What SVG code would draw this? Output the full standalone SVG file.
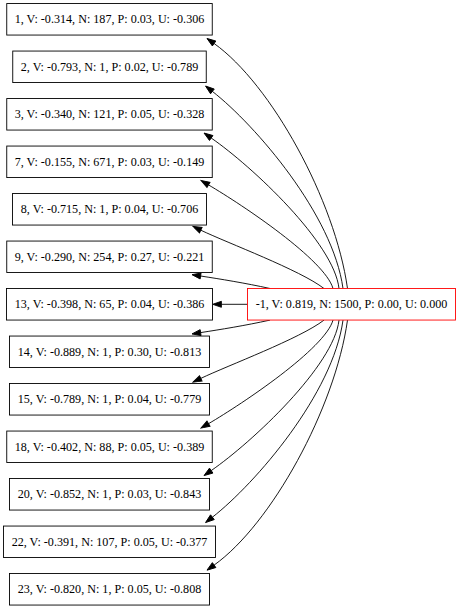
<svg xmlns="http://www.w3.org/2000/svg" width="459" height="609" viewBox="0 0 459 609">
<style>
.box{fill:#fff;stroke:#000;stroke-width:0.9}
.root{fill:#fff;stroke:#ff0000;stroke-width:0.9}
text{font-family:"Liberation Serif","Times New Roman",serif;font-size:12.12px;fill:#000;text-anchor:middle}
.edge{fill:none;stroke:#000;stroke-width:0.9;marker-end:url(#ah)}
</style>
<defs>
<marker id="ah" markerUnits="userSpaceOnUse" markerWidth="10" markerHeight="8" refX="0" refY="4" orient="auto" viewBox="0 0 10 8" overflow="visible">
<path d="M0,1 L8.7,4 L0,7 z" fill="#000" stroke="#000" stroke-width="0.9"/>
</marker>
</defs>
<rect width="459" height="609" fill="#fff"/>
<g id="edges">
<path class="edge" d="M347.5,288.5 C335,200 271,84 214.1,43.5"/>
<path class="edge" d="M343,288.5 C333,215 255.7,125.3 212.4,91.4"/>
<path class="edge" d="M339,288.5 C334,243 252.3,166.5 211.2,138"/>
<path class="edge" d="M333,288.5 C325,260 243,205.2 208.5,184.9"/>
<path class="edge" d="M324,288.5 C300,270 227.8,243.1 200.8,230.2"/>
<path class="edge" d="M270,288.5 C245,283 220,279 200.6,276"/>
<path class="edge" d="M247.5,304.3 L221.4,304.3"/>
<path class="edge" d="M270,320.1 C245,325.6 220,329.6 200.6,332.6"/>
<path class="edge" d="M324,320.1 C300,338.6 227.8,365.5 200.8,378.4"/>
<path class="edge" d="M333,320.1 C325,348.6 243,403.4 208.5,423.7"/>
<path class="edge" d="M339,320.1 C334,365.6 252.3,442.1 211.2,470.6"/>
<path class="edge" d="M343,320.1 C333,393.6 255.7,483.3 212.4,517.2"/>
<path class="edge" d="M347.5,320.1 C335,408.6 271,524.6 214.1,565.1"/>
</g>
<g id="n1"><rect class="box" x="6.75" y="3.55" width="205.5" height="31.5"/><text x="109.5" y="23.3">1, V: -0.314, N: 187, P: 0.03, U: -0.306</text></g>
<g id="n2"><rect class="box" x="12.75" y="51.05" width="193.5" height="31.5"/><text x="109.5" y="70.8">2, V: -0.793, N: 1, P: 0.02, U: -0.789</text></g>
<g id="n3"><rect class="box" x="6.75" y="98.55" width="205.5" height="31.5"/><text x="109.5" y="118.3">3, V: -0.340, N: 121, P: 0.05, U: -0.328</text></g>
<g id="n7"><rect class="box" x="6.75" y="146.05" width="205.5" height="31.5"/><text x="109.5" y="165.8">7, V: -0.155, N: 671, P: 0.03, U: -0.149</text></g>
<g id="n8"><rect class="box" x="12.5" y="193.55" width="194" height="31.5"/><text x="109.5" y="213.3">8, V: -0.715, N: 1, P: 0.04, U: -0.706</text></g>
<g id="n9"><rect class="box" x="6.75" y="241.05" width="205.5" height="31.5"/><text x="109.5" y="260.8">9, V: -0.290, N: 254, P: 0.27, U: -0.221</text></g>
<g id="n13"><rect class="box" x="6.5" y="288.55" width="206" height="31.5"/><text x="109.5" y="308.3">13, V: -0.398, N: 65, P: 0.04, U: -0.386</text></g>
<g id="n14"><rect class="box" x="9.5" y="336.05" width="200" height="31.5"/><text x="109.5" y="355.8">14, V: -0.889, N: 1, P: 0.30, U: -0.813</text></g>
<g id="n15"><rect class="box" x="9.5" y="383.55" width="200" height="31.5"/><text x="109.5" y="403.3">15, V: -0.789, N: 1, P: 0.04, U: -0.779</text></g>
<g id="n18"><rect class="box" x="6.75" y="431.05" width="205.5" height="31.5"/><text x="109.5" y="450.8">18, V: -0.402, N: 88, P: 0.05, U: -0.389</text></g>
<g id="n20"><rect class="box" x="9.5" y="478.55" width="200" height="31.5"/><text x="109.5" y="498.3">20, V: -0.852, N: 1, P: 0.03, U: -0.843</text></g>
<g id="n22"><rect class="box" x="3.5" y="526.05" width="212" height="31.5"/><text x="109.5" y="545.8">22, V: -0.391, N: 107, P: 0.05, U: -0.377</text></g>
<g id="n23"><rect class="box" x="9.5" y="573.55" width="200" height="31.5"/><text x="109.5" y="593.3">23, V: -0.820, N: 1, P: 0.05, U: -0.808</text></g>
<g id="root"><rect class="root" x="247.5" y="288.55" width="208" height="31.5"/><text x="351.5" y="308.3">-1, V: 0.819, N: 1500, P: 0.00, U: 0.000</text></g>
</svg>
